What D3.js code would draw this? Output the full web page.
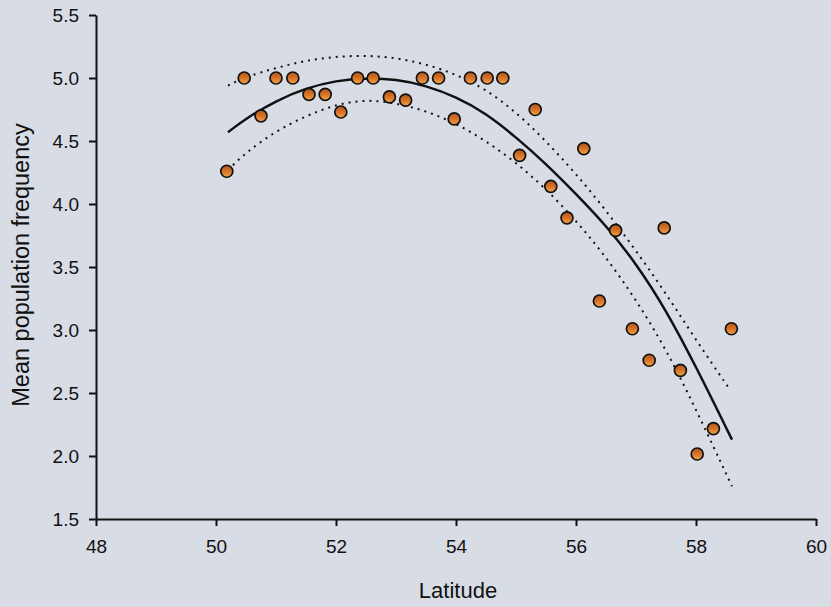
<!DOCTYPE html>
<html><head><meta charset="utf-8">
<script src="https://cdn.jsdelivr.net/npm/d3@7"></script>
<style>
html,body{margin:0;padding:0;background:#d8dce4;}
svg{display:block;}
text{font-family:"Liberation Sans",Arial,Helvetica,sans-serif;fill:#111;}
</style></head>
<body>
<svg id="chart" width="831" height="607"></svg>
<script>
// Observed points
const latitude = [50.18,50.47,50.75,51.0,51.28,51.55,51.82,52.08,52.36,52.62,52.89,53.16,53.44,53.71,53.97,54.24,54.52,54.78,55.06,55.32,55.58,55.85,56.13,56.39,56.66,56.94,57.22,57.47,57.74,58.02,58.29,58.59];
const frequency = [4.26,5.0,4.70,5.0,5.0,4.87,4.87,4.73,5.0,5.0,4.85,4.825,5.0,5.0,4.675,5.0,5.0,5.0,4.386,4.75,4.14,3.89,4.44,3.23,3.79,3.01,2.76,3.81,2.68,2.016,2.217,3.01];

// Fitted curve and confidence band
const fitX   = [50.2,50.5,51.0,51.5,52.0,52.5,53.0,53.5,54.0,54.5,55.0,55.5,56.0,56.5,57.0,57.5,58.0,58.6];
const fitY   = [4.57,4.68,4.82,4.92,4.98,5.0,4.99,4.94,4.85,4.72,4.53,4.32,4.08,3.83,3.53,3.16,2.71,2.13];
const upperX = [50.2,50.5,51.0,51.5,52.0,52.5,53.0,53.5,54.0,54.5,55.0,55.5,56.0,56.5,57.0,57.5,58.0,58.56];
const upperY = [4.94,5.01,5.08,5.14,5.17,5.18,5.16,5.11,5.03,4.91,4.73,4.50,4.24,3.95,3.63,3.29,2.92,2.53];
const lowerX = [50.2,50.5,51.0,51.5,52.0,52.5,53.0,53.5,54.0,54.5,55.0,55.5,56.0,56.5,57.0,57.5,58.0,58.6];
const lowerY = [4.27,4.41,4.58,4.70,4.79,4.83,4.80,4.74,4.64,4.50,4.33,4.12,3.87,3.58,3.24,2.85,2.37,1.76];

const xTicks = [48,50,52,54,56,58,60];
const yTicks = [1.5,2.0,2.5,3.0,3.5,4.0,4.5,5.0,5.5];

const svg = d3.select("#chart");
const x = d3.scaleLinear().domain([48,60]).range([96,816]);
const y = d3.scaleLinear().domain([1.5,5.5]).range([519,15]);

const defs = svg.append("defs");
const g = defs.append("linearGradient").attr("id","ptg").attr("x1","0").attr("y1","0").attr("x2","0").attr("y2","1");
g.append("stop").attr("offset","0%").attr("stop-color","#b4531a");
g.append("stop").attr("offset","55%").attr("stop-color","#d8762a");
g.append("stop").attr("offset","100%").attr("stop-color","#f2a64c");

const xAxis = d3.axisBottom(x).tickValues(xTicks).tickFormat(d3.format("d")).tickSize(7).tickSizeOuter(0);
const yAxis = d3.axisLeft(y).tickValues(yTicks).tickFormat(d3.format(".1f")).tickSize(7).tickSizeOuter(0);

const gx = svg.append("g").attr("transform","translate(0,519)").call(xAxis);
const gy = svg.append("g").attr("transform","translate(96,0)").call(yAxis);
[gx,gy].forEach(a=>{
  a.select(".domain").attr("stroke","#111").attr("stroke-width",2);
  a.selectAll(".tick line").attr("stroke","#111").attr("stroke-width",2);
  a.selectAll(".tick text").attr("font-size",19).attr("fill","#111").style("font-family","'Liberation Sans',Arial,sans-serif");
});
gx.selectAll(".tick text").attr("y",34).attr("dy",0);
gy.selectAll(".tick text").attr("x",-17).attr("dy","0.36em");

svg.append("text").attr("x",458).attr("y",598).attr("text-anchor","middle").attr("font-size",22).text("Latitude");
svg.append("text").attr("transform","translate(29,265) rotate(-90)").attr("text-anchor","middle").attr("font-size",23.5).text("Mean population frequency");

const line = d3.line().x(d=>x(d[0])).y(d=>y(d[1])).curve(d3.curveBasis);

svg.append("path").datum(d3.zip(upperX,upperY)).attr("d",line)
  .attr("fill","none").attr("stroke","#111").attr("stroke-width",2).attr("stroke-dasharray","2,5");
svg.append("path").datum(d3.zip(lowerX,lowerY)).attr("d",line)
  .attr("fill","none").attr("stroke","#111").attr("stroke-width",2).attr("stroke-dasharray","2,5");
svg.append("path").datum(d3.zip(fitX,fitY)).attr("d",line)
  .attr("fill","none").attr("stroke","#111").attr("stroke-width",2.5);

svg.append("g").selectAll("circle").data(d3.zip(latitude,frequency)).join("circle")
  .attr("cx",d=>x(d[0])).attr("cy",d=>y(d[1])).attr("r",6)
  .attr("fill","url(#ptg)").attr("stroke","#111").attr("stroke-width",1.7);
</script>
</body></html>
